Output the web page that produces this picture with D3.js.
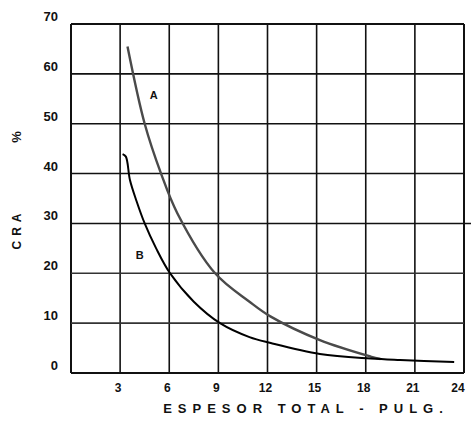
<!DOCTYPE html>
<html>
<head>
<meta charset="utf-8" />
<style>
  body { margin: 0; background: #fff; }
  svg { display: block; }
  text { font-family: "Liberation Sans", sans-serif; font-weight: bold; fill: #111; }
</style>
</head>
<body>
<script src="https://cdn.jsdelivr.net/npm/d3@7"></script>
<script>
// thickness (pulg) vs CRA %
var xTicks = [3, 6, 9, 12, 15, 18, 21, 24];
var yTicks = [0, 10, 20, 30, 40, 50, 60, 70];

var curveA = [
  [3.45, 65.5], [4.5, 50], [5.5, 40], [6.5, 32], [8.8, 20],
  [10.9, 14.3], [12.2, 11.3], [15.2, 6.6], [18.3, 3.3], [18.9, 2.8]
];
var curveB = [
  [3.15, 43.9], [3.35, 43.4], [3.6, 38.7], [4.0, 34.5], [4.5, 30],
  [5.2, 25], [6.05, 20], [7.5, 14.3], [9.1, 10], [10.9, 7.2], [12.2, 6],
  [15.2, 3.8], [18.3, 2.9], [20.1, 2.6], [23.4, 2.2]
];

var svg = d3.select("body").append("svg")
  .attr("width", 472)
  .attr("height", 431);

var x = d3.scaleLinear().domain([0, 24]).range([71, 464]);
var y = d3.scaleLinear().domain([0, 70]).range([373, 24]);

// grid
svg.append("g")
  .selectAll("line")
  .data([0].concat(xTicks))
  .join("line")
  .attr("x1", d => x(d)).attr("x2", d => x(d))
  .attr("y1", y(0)).attr("y2", y(70))
  .attr("stroke", "#111")
  .attr("stroke-width", d => (d == 0 || d == 24) ? 2 : 1.6);

svg.append("g")
  .selectAll("line")
  .data(yTicks)
  .join("line")
  .attr("x1", x(0))
  .attr("x2", d => d == 30 ? 471 : x(24))
  .attr("y1", d => y(d)).attr("y2", d => y(d))
  .attr("stroke", d => (d == 20 || d == 10) ? "#333" : "#111")
  .attr("stroke-width", d => (d == 0 || d == 70) ? 2 : 1.6);

// curves
var line = d3.line()
  .x(d => x(d[0]))
  .y(d => y(d[1]))
  .curve(d3.curveCatmullRom.alpha(0.5));

svg.append("path")
  .datum(curveA)
  .attr("d", line)
  .attr("fill", "none")
  .attr("stroke", "#4a4a4a")
  .attr("stroke-width", 2.4);

svg.append("path")
  .datum(curveB)
  .attr("d", line)
  .attr("fill", "none")
  .attr("stroke", "#000")
  .attr("stroke-width", 2);

svg.append("text").attr("x", x(5.05)).attr("y", y(55)).attr("text-anchor", "middle")
  .style("font-size", "11px").text("A");
svg.append("text").attr("x", x(4.2)).attr("y", y(22.8)).attr("text-anchor", "middle")
  .style("font-size", "11px").text("B");

// tick labels
svg.append("g")
  .selectAll("text")
  .data(yTicks)
  .join("text")
  .attr("x", 58)
  .attr("y", d => y(d) - 3)
  .attr("text-anchor", "end")
  .style("font-size", "13px")
  .text(d => d);

svg.append("g")
  .selectAll("text")
  .data(xTicks)
  .join("text")
  .attr("x", d => x(d) - (d == 24 ? 6 : 2))
  .attr("y", 392)
  .attr("text-anchor", "middle")
  .style("font-size", "12px")
  .text(d => d);

// axis titles
svg.append("text")
  .attr("x", 306).attr("y", 413)
  .attr("text-anchor", "middle")
  .style("font-size", "13px")
  .style("letter-spacing", "6px")
  .text("ESPESOR TOTAL - PULG.");

svg.append("text")
  .attr("transform", "translate(21,229) rotate(-90)")
  .attr("text-anchor", "middle")
  .style("font-size", "12px")
  .style("letter-spacing", "5px")
  .text("CRA");

svg.append("text")
  .attr("transform", "translate(21,137) rotate(-90)")
  .attr("text-anchor", "middle")
  .style("font-size", "13px")
  .text("%");
</script>
</body>
</html>
